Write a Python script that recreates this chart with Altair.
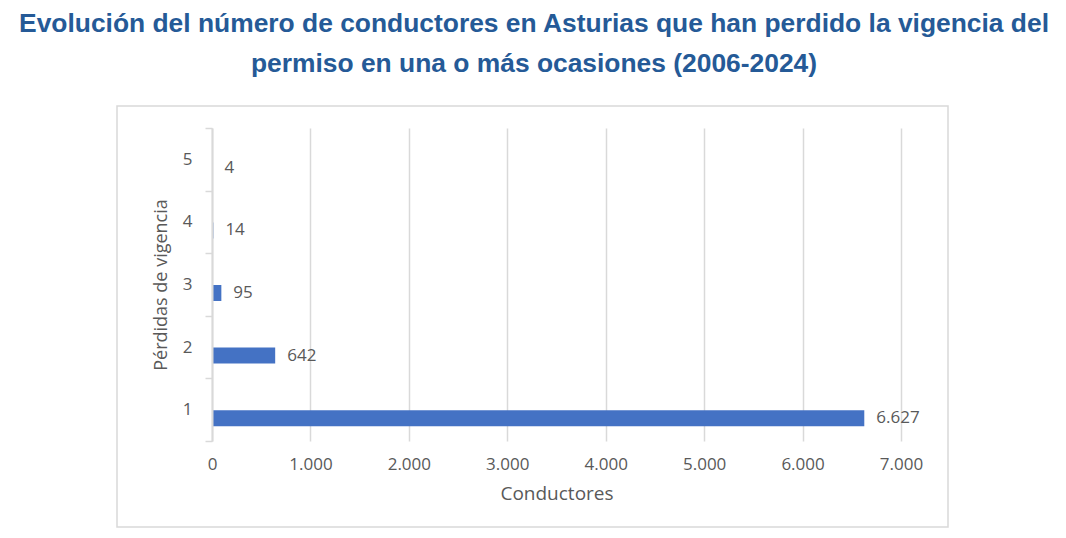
import altair as alt
import pandas as pd

# Data
categories = ["1", "2", "3", "4", "5"]
conductores = [6627, 642, 95, 14, 4]
x_ticks = [0, 1000, 2000, 3000, 4000, 5000, 6000, 7000]
title_lines = [
    "Evolución del número de conductores en Asturias que han perdido la vigencia del",
    "permiso en una o más ocasiones (2006-2024)",
]

df = pd.DataFrame({"cat": categories, "v": conductores})

GRAY = "#D9D9D9"
TXT = "#595959"
FONT = "Open Sans"
BAR_OFF = 8.5

base = alt.Chart(df).transform_calculate(
    label="replace(format(datum.v, ','), ',', '.')"
)

y_enc = alt.Y(
    "cat:N",
    sort=["5", "4", "3", "2", "1"],
    scale=alt.Scale(paddingInner=0, paddingOuter=0),
    axis=alt.Axis(
        title="Pérdidas de vigencia",
        titleFont=FONT,
        titleFontSize=18,
        titleFontWeight="normal",
        titleColor=TXT,
        titlePadding=12,
        labelFont=FONT,
        labelFontSize=17,
        labelColor=TXT,
        labelPadding=13,
        labelAngle=0,
        tickBand="extent",
        tickColor=GRAY,
        tickSize=7,
        tickWidth=1.5,
        domainColor=GRAY,
        domainWidth=2,
        grid=False,
        zindex=1,
    ),
)

x_enc = alt.X(
    "v:Q",
    scale=alt.Scale(domain=[0, 7000], nice=False),
    axis=alt.Axis(
        title="Conductores",
        values=x_ticks,
        labelExpr="replace(format(datum.value, ','), ',', '.')",
        labelFlush=False,
        titleFont=FONT,
        titleFontSize=19,
        titleFontWeight="normal",
        titleColor=TXT,
        titlePadding=12,
        labelFont=FONT,
        labelFontSize=17,
        labelColor=TXT,
        labelPadding=15,
        domain=False,
        ticks=False,
        grid=True,
        gridColor=GRAY,
        gridWidth=1.5,
    ),
)

bars = base.mark_bar(size=16, yOffset=BAR_OFF, color="#4472C4").encode(
    x=x_enc, y=y_enc
)

labels = base.mark_text(
    align="left",
    baseline="middle",
    dx=12,
    yOffset=BAR_OFF,
    font=FONT,
    fontSize=17,
    color=TXT,
).encode(x="v:Q", y=alt.Y("cat:N", sort=["5", "4", "3", "2", "1"]), text="label:N")

frame = alt.Chart(pd.DataFrame({"a": [0]})).mark_rect(
    fillOpacity=0, stroke=GRAY, strokeWidth=1.5
).encode(
    x=alt.value(-95), x2=alt.value(736), y=alt.value(-22), y2=alt.value(399)
)

chart = (
    alt.layer(frame, bars, labels)
    .properties(
        width=689,
        height=313,
        autosize=alt.AutoSizeParams(type="none"),
        padding={"left": 212, "top": 128, "right": 165, "bottom": 97},
        background="white",
        title=alt.TitleParams(
            text=title_lines,
            font="Liberation Sans Narrow, Arial Narrow, sans-serif",
            fontSize=26.4,
            fontWeight="bold",
            color="#255A97",
            anchor="middle",
            frame="group",
            dx=-22.5,
            offset=1,
            lineHeight=40,
            baseline="bottom",
        ),
    )
    .configure_view(stroke=None)
)

chart.save("out.html", embed_options={"renderer": "svg", "actions": False})
